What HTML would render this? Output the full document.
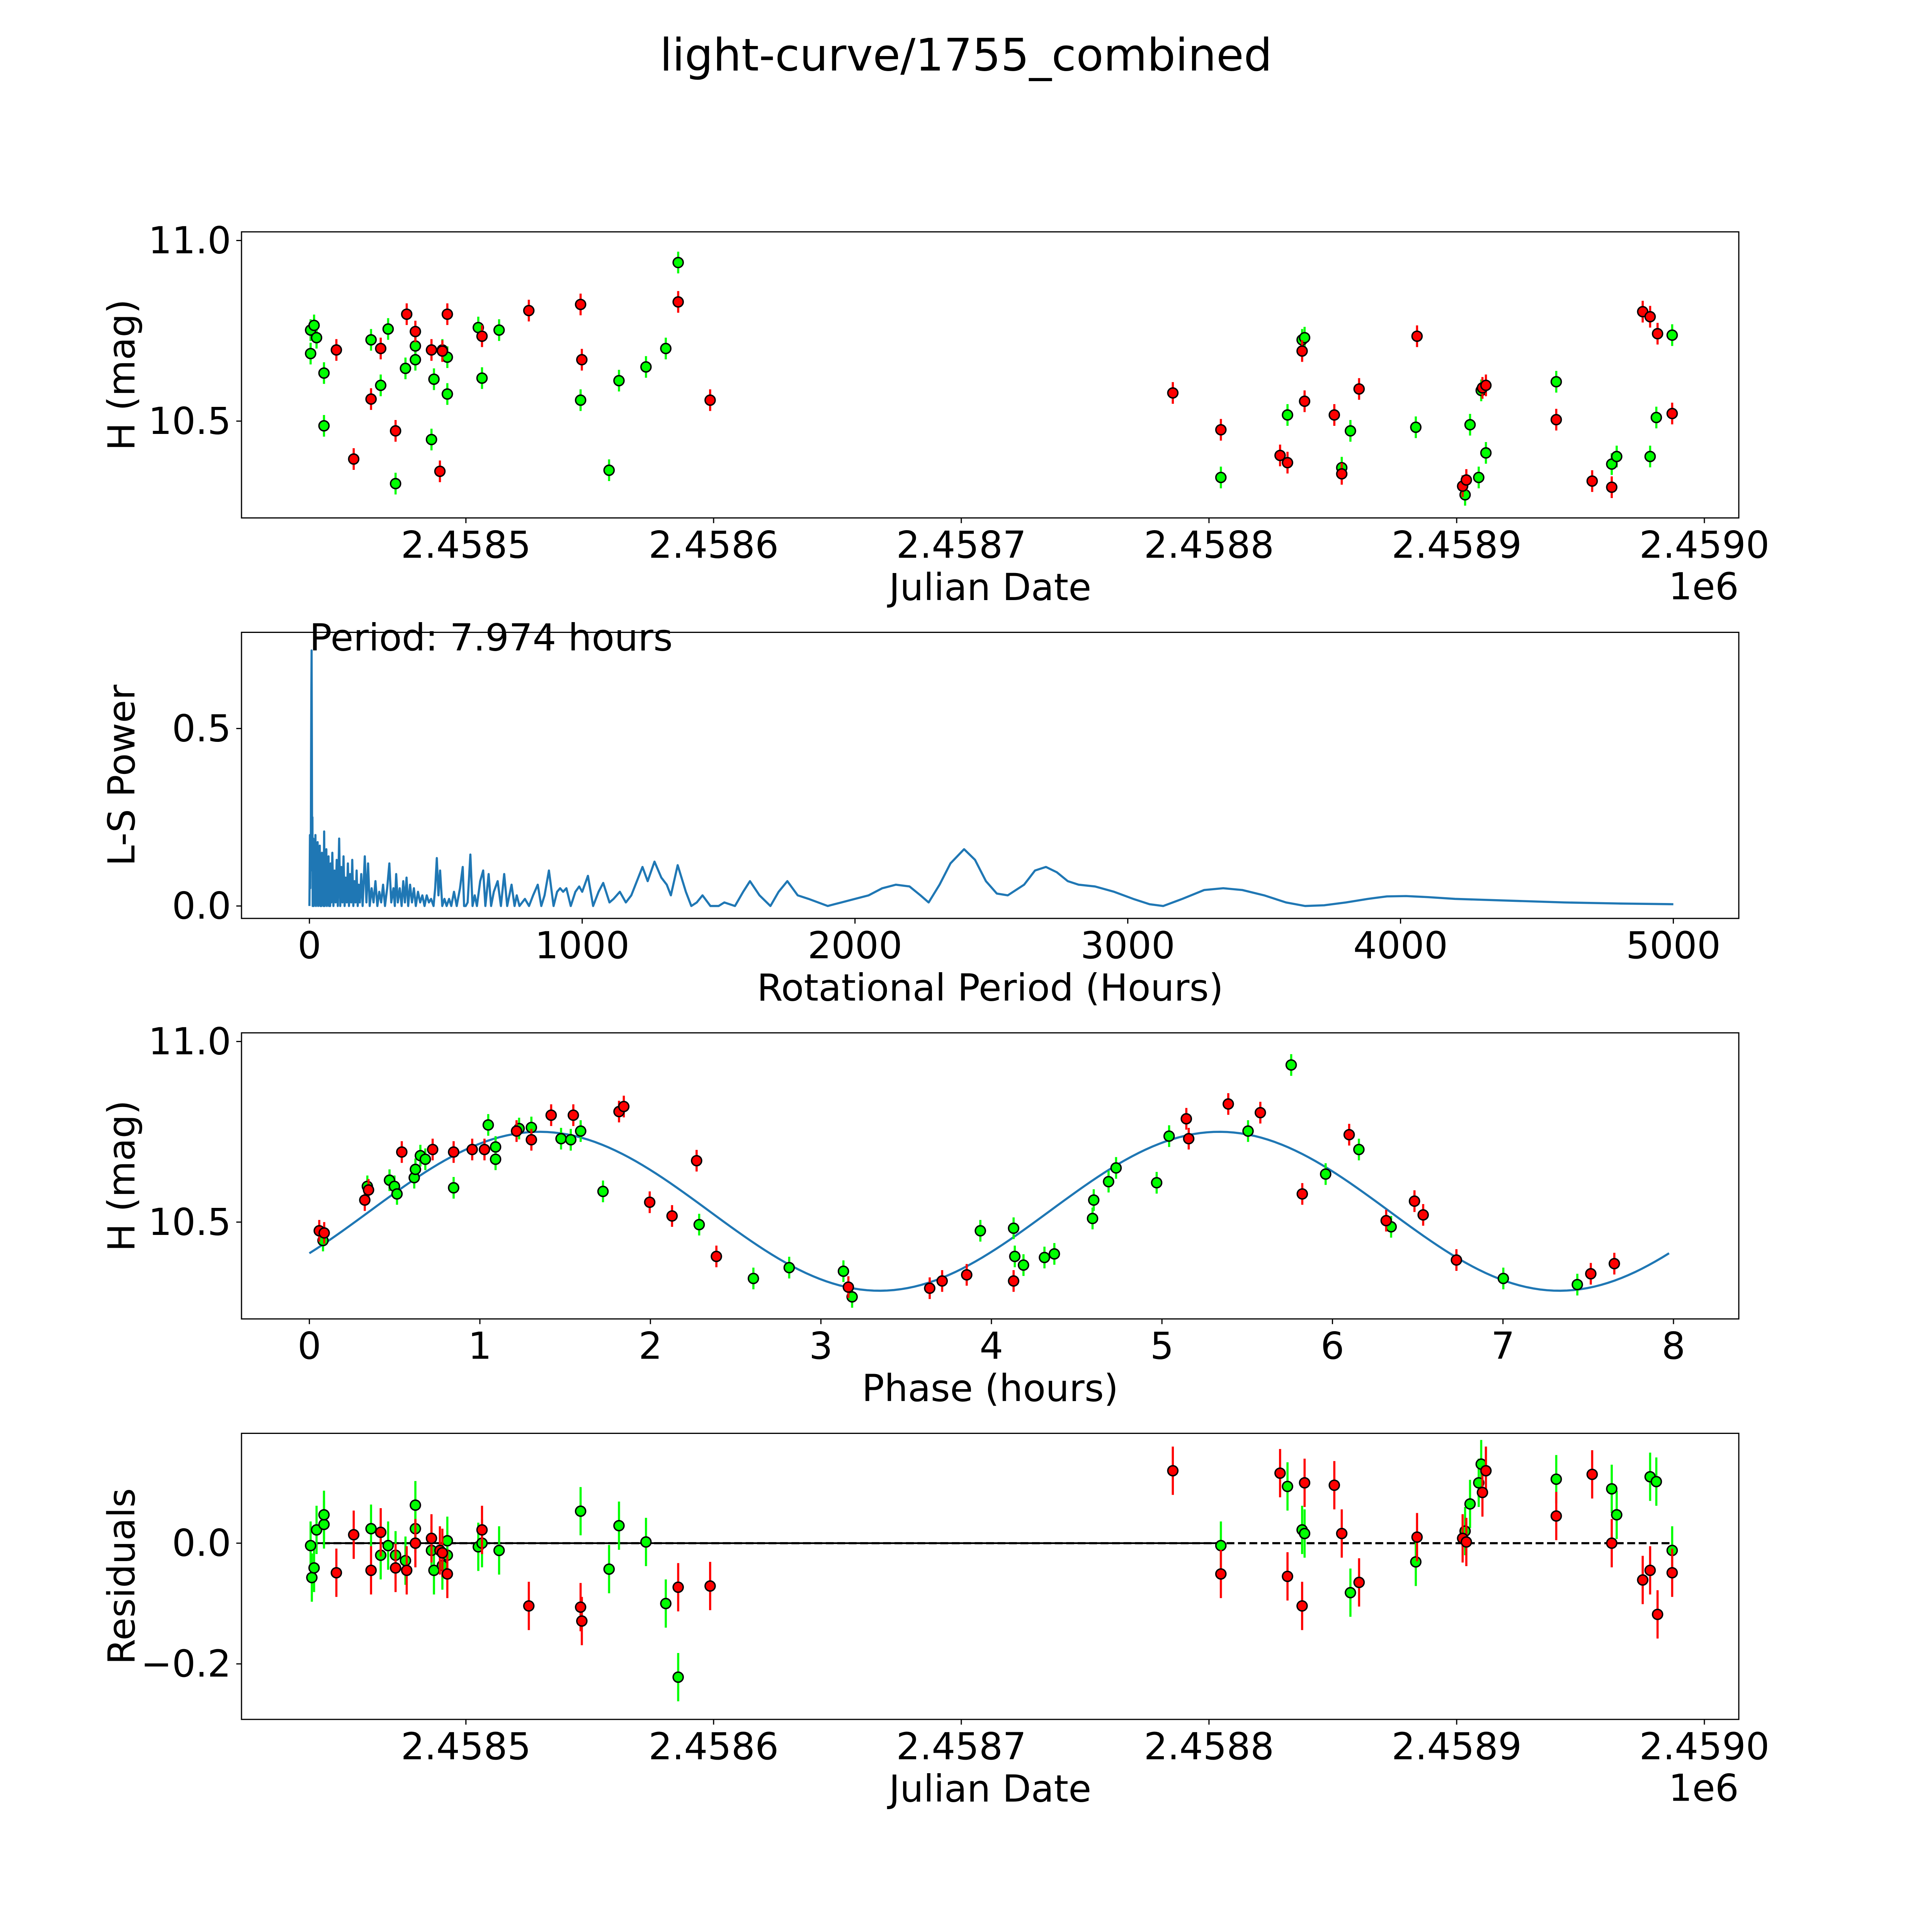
<!DOCTYPE html>
<html><head><meta charset="utf-8"><style>
html,body{margin:0;padding:0;background:#fff;width:100%;height:100%;overflow:hidden;}
svg{display:block;width:100vw;height:100vh;font-family:"DejaVu Sans","Liberation Sans",sans-serif;}
</style></head><body>
<svg id="fig" viewBox="0 0 5400 5400" preserveAspectRatio="none" xmlns="http://www.w3.org/2000/svg">
<rect width="5400" height="5400" fill="#fff"/>
<text x="2700" y="155" font-size="125" text-anchor="middle" dominant-baseline="central">light-curve/1755_combined</text>
</svg>
<script>
// ---- data (JD in days offset from 2458000) ----
const greenJD=[437.3,438.7,439.7,437.3,442.7,442.7,461.7,465.6,468.6,471.6,475.6,479.6,479.6,486.1,487.1,490.5,492.5,492.5,505.0,506.5,513.4,546.3,557.8,561.8,572.7,580.7,585.7,804.8,831.7,837.6,838.6,853.6,857.1,883.5,903.4,905.4,908.9,909.9,911.8,940.2,962.6,964.6,978.1,980.6,987.0];
const greenMag=[10.752,10.765,10.731,10.687,10.633,10.487,10.725,10.599,10.755,10.327,10.646,10.708,10.670,10.449,10.616,10.697,10.677,10.575,10.759,10.619,10.752,10.558,10.364,10.612,10.650,10.701,10.939,10.344,10.517,10.725,10.731,10.371,10.473,10.483,10.296,10.490,10.344,10.585,10.412,10.609,10.381,10.402,10.402,10.510,10.738];
const redJD=[447.7,454.7,461.7,465.6,471.6,476.1,479.6,486.1,489.5,490.5,492.5,506.5,525.4,546.3,546.8,585.7,598.6,785.4,804.8,828.7,831.7,837.6,838.6,850.6,853.6,860.6,884.0,902.4,903.9,910.4,911.8,940.2,954.7,962.6,975.1,978.1,981.1,987.0];
const redMag=[10.697,10.395,10.561,10.701,10.473,10.796,10.748,10.697,10.361,10.694,10.796,10.735,10.806,10.823,10.670,10.830,10.558,10.578,10.476,10.405,10.385,10.694,10.555,10.517,10.354,10.589,10.735,10.320,10.337,10.592,10.599,10.504,10.334,10.317,10.803,10.789,10.742,10.521];
const magErr=0.03;
// periodogram: [period hours, power]
const lsPoints=[[0,0],[2,0.2],[3,0.05],[4,0.19],[5,0.1],[6,0.4],[7,0.6],[8,0.72],[9,0.45],[10,0.1],[11,0.25],
[12,0],[14,0.19],[16,0],[18,0.16],[20,0.01],[22,0.2],[24,0],[26,0.14],[28,0.01],[30,0.18],[32,0],[34,0.12],[36,0.01],[38,0.17],[40,0],[42,0.13],[44,0],[46,0.15],[48,0.01],[50,0.11],[52,0],[54,0.21],[56,0],[58,0.12],[60,0.01],[62,0.16],[64,0],[66,0.1],[68,0.01],[70,0.14],[72,0],[74,0.09],[76,0],[78,0.12],[80,0.01],[84,0.15],[88,0],[92,0.1],[96,0.01],[100,0.13],[104,0],[109,0.19],[113,0],[117,0.11],[121,0.01],[125,0.14],[129,0],[133,0.08],[137,0.01],[141,0.12],[145,0],[149,0.09],[153,0.01],[157,0.13],[161,0],[165,0.07],[169,0.01],[173,0.1],[177,0],[181,0.06],[185,0.01],[190,0.09],[195,0],[203,0.14],[209,0.01],[215,0.12],[221,0],[228,0.05],[235,0.01],[242,0.07],[249,0],[256,0.04],[263,0.01],[270,0.06],[277,0],[285,0.05],[293,0.12],[300,0.01],[308,0.05],[313,0],[318,0.09],[324,0.01],[331,0.05],[338,0],[344,0.07],[350,0.01],[356,0.08],[362,0],[369,0.06],[376,0.01],[383,0.05],[390,0],[398,0.04],[406,0.01],[414,0.03],[422,0],[430,0.03],[438,0.01],[446,0.02],[455,0],[461,0.05],[467,0.135],[473,0.03],[479,0.1],[487,0],[495,0.02],[503,0],[512,0.02],[520,0],[530,0.04],[540,0],[552,0.05],[562,0.11],[567,0],[573,0],[580,0.01],[590,0.145],[598,0],[606,0.03],[614,0],[626,0.07],[637,0.1],[645,0],[657,0.09],[666,0],[676,0.04],[690,0.07],[702,0],[714,0.09],[725,0],[741,0.06],[752,0],[760,0.03],[770,0],[790,0.02],[805,0],[820,0.03],[837,0.06],[850,0],[862,0.03],[878,0.1],[895,0],[908,0.04],[919,0.05],[930,0.04],[942,0.05],[958,0],[975,0.04],[989,0.055],[1000,0.04],[1021,0.085],[1040,0],[1060,0.04],[1077,0.065],[1100,0.01],[1115,0.02],[1138,0.04],[1160,0.01],[1180,0.03],[1221,0.11],[1240,0.07],[1265,0.125],[1290,0.08],[1310,0.06],[1325,0.03],[1350,0.115],[1380,0.04],[1400,0],[1420,0.01],[1441,0.03],[1470,0],[1500,0],[1521,0.01],[1560,0],[1590,0.04],[1615,0.07],[1650,0.03],[1690,0],[1720,0.04],[1752,0.07],[1790,0.03],[1830,0.02],[1900,0],[1950,0.01],[2000,0.02],[2050,0.03],[2100,0.05],[2150,0.06],[2200,0.055],[2240,0.03],[2270,0.01],[2310,0.06],[2350,0.12],[2400,0.16],[2440,0.13],[2480,0.07],[2520,0.035],[2560,0.03],[2620,0.06],[2660,0.1],[2700,0.11],[2740,0.095],[2780,0.07],[2820,0.06],[2880,0.055],[2950,0.04],[3020,0.02],[3080,0.005],[3130,0],[3200,0.02],[3280,0.045],[3350,0.05],[3420,0.045],[3500,0.03],[3580,0.01],[3650,0],[3720,0.002],[3800,0.01],[3880,0.02],[3950,0.027],[4020,0.028],[4100,0.025],[4200,0.02],[4400,0.015],[4600,0.01],[4800,0.007],[5000,0.005]];
const bestPeriod=7.974, bestPower=0.72;
// phased
const greenPhase=[0.080,0.340,0.470,0.499,0.514,0.615,0.622,0.651,0.680,0.846,1.049,1.092,1.092,1.230,1.302,1.476,1.533,1.591,1.722,2.286,2.604,2.814,3.132,3.183,3.935,4.130,4.137,4.188,4.311,4.369,4.593,4.600,4.687,4.731,4.969,5.042,5.505,5.758,5.960,6.155,6.344,7.002,7.436];
const greenPhaseMag=[10.449,10.599,10.616,10.599,10.578,10.623,10.646,10.684,10.674,10.595,10.769,10.708,10.674,10.759,10.762,10.731,10.728,10.752,10.585,10.493,10.344,10.374,10.364,10.293,10.476,10.483,10.405,10.381,10.402,10.412,10.510,10.561,10.612,10.650,10.609,10.738,10.752,10.935,10.633,10.701,10.487,10.344,10.327];
const redPhase=[0.058,0.087,0.325,0.347,0.542,0.723,0.846,0.955,1.027,1.215,1.302,1.418,1.548,1.816,1.844,1.996,2.127,2.271,2.387,3.161,3.638,3.711,3.855,4.130,5.143,5.157,5.389,5.577,5.823,6.098,6.315,6.481,6.532,6.727,7.515,7.653];
const redPhaseMag=[10.476,10.470,10.561,10.589,10.694,10.701,10.694,10.701,10.701,10.752,10.728,10.796,10.796,10.806,10.820,10.555,10.517,10.670,10.405,10.320,10.317,10.337,10.354,10.337,10.786,10.731,10.827,10.803,10.578,10.742,10.504,10.558,10.520,10.395,10.357,10.385];
const fitMean=10.53, fitAmp=0.22, fitPeakPhase=1.35, fitHalfPeriod=3.987;
// residuals
const greenResJD=[437.3,437.8,438.7,439.7,442.7,442.7,461.7,465.6,468.6,471.6,475.6,479.6,479.6,486.1,487.1,490.5,492.5,492.5,505.0,506.5,513.4,546.3,557.8,561.8,572.7,580.7,585.7,804.8,831.7,837.6,838.6,857.1,883.5,903.4,905.4,908.9,909.9,911.8,940.2,962.6,964.6,978.1,980.6,987.0];
const greenRes=[-0.004,-0.057,-0.041,0.022,0.031,0.047,0.024,-0.020,-0.004,-0.020,-0.029,0.024,0.063,-0.012,-0.045,-0.037,-0.020,0.004,-0.006,0,-0.012,0.053,-0.043,0.029,0.002,-0.100,-0.222,-0.004,0.094,0.022,0.016,-0.082,-0.031,0.020,0.065,0.100,0.131,0.120,0.106,0.090,0.047,0.110,0.102,-0.012];
const redResJD=[447.7,454.7,461.7,465.6,471.6,476.1,479.6,486.1,489.5,490.5,492.5,506.5,525.4,546.3,546.8,585.7,598.6,785.4,804.8,828.7,831.7,837.6,838.6,850.6,853.6,860.6,884.0,902.4,903.9,910.4,911.8,940.2,954.7,962.6,975.1,978.1,981.1,987.0];
const redRes=[-0.049,0.014,-0.045,0.018,-0.041,-0.045,0,0.008,-0.012,-0.016,-0.051,0.022,-0.104,-0.106,-0.129,-0.073,-0.071,0.120,-0.051,0.116,-0.055,-0.104,0.100,0.096,0.016,-0.065,0.010,0.008,0.002,0.084,0.120,0.045,0.114,0,-0.061,-0.045,-0.118,-0.049];
const resErr=0.04;
const jdTicks=[500,600,700,800,900,1000];
const jdTickLabels=["2.4585","2.4586","2.4587","2.4588","2.4589","2.4590"];
const perTicks=[0,1000,2000,3000,4000,5000];
const phaseTicks=[0,1,2,3,4,5,6,7,8];

const NS="http://www.w3.org/2000/svg";
const svg=document.getElementById('fig');
function mk(tag,attrs,parent){const e=document.createElementNS(NS,tag);for(const k in attrs)e.setAttribute(k,attrs[k]);(parent||svg).appendChild(e);return e;}
const L=675,R=4860,H=799.6,tops=[648,1767.4,2886.8,4006.2];
const FS=104;
function axis(i,xmin,xmax,ymin,ymax){const t=tops[i],b=t+H;return{t,b,x:v=>L+(v-xmin)/(xmax-xmin)*(R-L),y:v=>b-(v-ymin)/(ymax-ymin)*H};}
const A1=axis(0,409.4,1013.9,10.232,11.024);
const A2=axis(1,-249,5240,-0.035,0.771);
const A3=axis(2,-0.398,8.383,10.232,11.024);
const A4=axis(3,409.4,1013.9,-0.292,0.182);

function frame(A,name,xt,xl,yt,yl,xlabel,ylabel,offset){
  const g=mk('g',{});
  
  
  xt.forEach((v,k)=>{const X=A.x(v);
    const tk=mk('line',{x1:X,x2:X,y1:A.b,y2:A.b+14.6,stroke:'#000','stroke-width':3.3},g);
    
    
    const tx=mk('text',{x:X,y:A.b+76,'font-size':FS,'text-anchor':'middle','dominant-baseline':'central'},g);tx.textContent=xl[k];
    
    });
  yt.forEach((v,k)=>{const Y=A.y(v);
    const tk=mk('line',{x1:L-14.6,x2:L,y1:Y,y2:Y,stroke:'#000','stroke-width':3.3},g);
    
    
    const tx=mk('text',{x:L-29,y:Y,'font-size':FS,'text-anchor':'end','dominant-baseline':'central'},g);tx.textContent=yl[k];
    
    });
  const xlab=mk('text',{x:(L+R)/2,y:A.b+194,'font-size':FS,'text-anchor':'middle','dominant-baseline':'central'},g);xlab.textContent=xlabel;
  
  
  const ylab=mk('text',{x:0,y:0,'font-size':FS,'text-anchor':'middle','dominant-baseline':'central',transform:`translate(${L-335},${(A.t+A.b)/2}) rotate(-90)`},g);ylab.textContent=ylabel;
  
  
  if(offset){const o=mk('text',{x:R,y:A.b+192,'font-size':FS,'text-anchor':'end','dominant-baseline':'central'},g);o.textContent=offset;
    
    }
}
function border(A,name){const r=mk('rect',{x:L,y:A.t,width:R-L,height:H,fill:'none',stroke:'#000','stroke-width':3.3});
  
  }
function points(A,xs,ys,err,color,name){
  const g=mk('g',{});
  
  
  xs.forEach((v,k)=>{const X=A.x(v);
    const e=mk('line',{x1:X,x2:X,y1:A.y(ys[k]-err),y2:A.y(ys[k]+err),stroke:color,'stroke-width':6},g);
    
    });
  xs.forEach((v,k)=>{const c=mk('circle',{cx:A.x(v),cy:A.y(ys[k]),r:14,fill:color,stroke:'#000','stroke-width':4},g);
    
    });
}
// panel 1
frame(A1,'light-curve-panel',jdTicks,jdTickLabels,[10.5,11.0],['10.5','11.0'],'Julian Date','H (mag)','1e6');
points(A1,greenJD,greenMag,magErr,'#00ff00','green-series');
points(A1,redJD,redMag,magErr,'#ff0000','red-series');
border(A1,'light-curve-axes');
// panel 2
frame(A2,'periodogram-panel',perTicks,perTicks.map(String),[0,0.5],['0.0','0.5'],'Rotational Period (Hours)','L-S Power');
const pl=mk('polyline',{points:lsPoints.map(p=>A2.x(p[0])+','+A2.y(p[1])).join(' '),fill:'none',stroke:'#1f77b4','stroke-width':6,'stroke-linejoin':'round'});


const ptxt=mk('text',{x:A2.x(0),y:A2.y(bestPower),'font-size':FS});ptxt.textContent='Period: '+bestPeriod.toFixed(3)+' hours';


border(A2,'periodogram-axes');
// panel 3
frame(A3,'phase-panel',phaseTicks,phaseTicks.map(String),[10.5,11.0],['10.5','11.0'],'Phase (hours)','H (mag)');
const fp=[];for(let i=0;i<=200;i++){const t=bestPeriod*i/200;fp.push(A3.x(t)+','+A3.y(fitMean+fitAmp*Math.cos(2*Math.PI*(t-fitPeakPhase)/fitHalfPeriod)));}
const fl=mk('polyline',{points:fp.join(' '),fill:'none',stroke:'#1f77b4','stroke-width':6});


points(A3,greenPhase,greenPhaseMag,magErr,'#00ff00','green-phase-series');
points(A3,redPhase,redPhaseMag,magErr,'#ff0000','red-phase-series');
border(A3,'phase-axes');
// panel 4
frame(A4,'residuals-panel',jdTicks,jdTickLabels,[-0.2,0.0],['\u22120.2','0.0'],'Julian Date','Residuals','1e6');
const z1=mk('line',{x1:A4.x(437.3),x2:A4.x(804.8),y1:A4.y(0),y2:A4.y(0),stroke:'#000','stroke-width':5});


const z2=mk('line',{x1:A4.x(437.3),x2:A4.x(987),y1:A4.y(0),y2:A4.y(0),stroke:'#000','stroke-width':6,'stroke-dasharray':'22 10'});


points(A4,greenResJD,greenRes,resErr,'#00ff00','green-residuals');
points(A4,redResJD,redRes,resErr,'#ff0000','red-residuals');
border(A4,'residuals-axes');
</script>
</body></html>
